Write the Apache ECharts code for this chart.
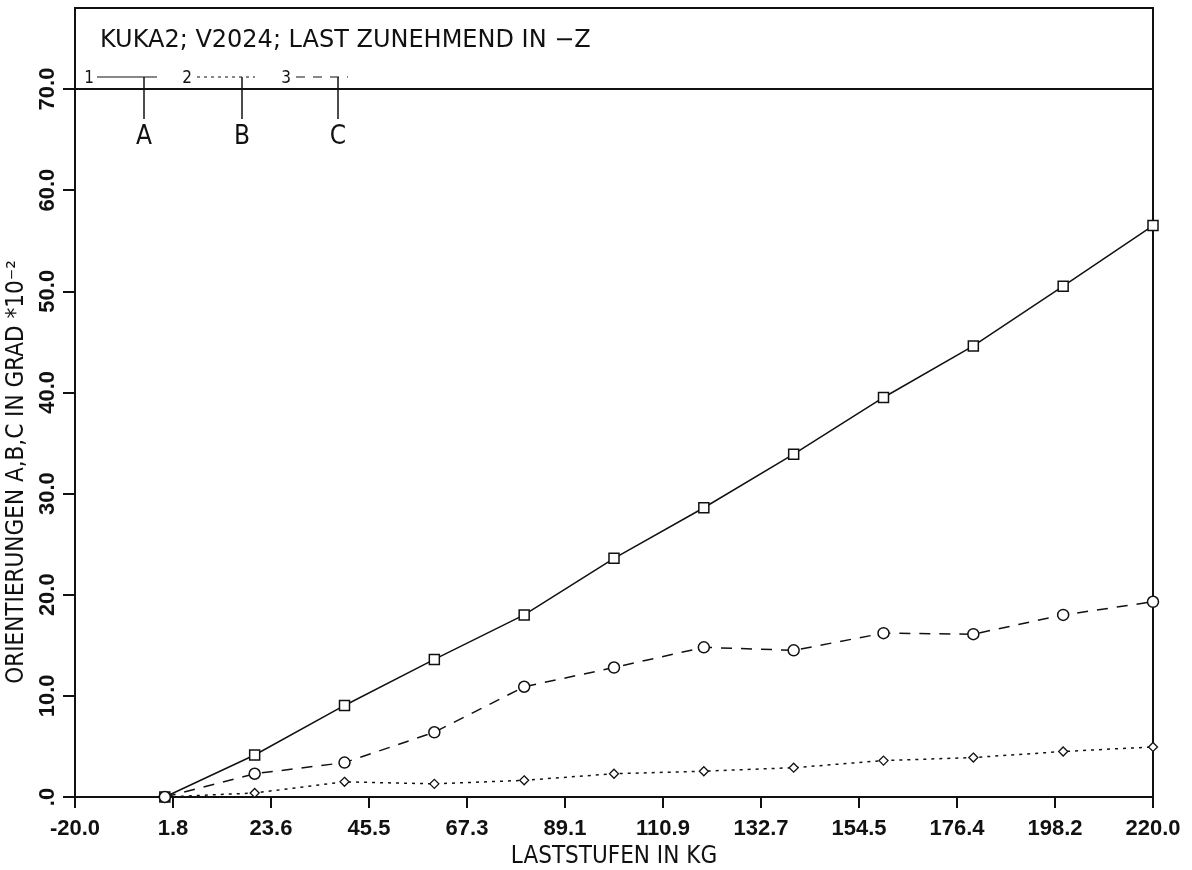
<!DOCTYPE html>
<html>
<head>
<meta charset="utf-8">
<title>KUKA2 V2024</title>
<script src="https://cdn.jsdelivr.net/npm/echarts@6/dist/echarts.min.js"></script>
<style>
    html, body { margin: 0; padding: 0; background: #fff; }
    #main { width: 1192px; height: 870px; }
</style>
</head>
<body>
<div id="main"></div>
<script>
/************************************************************************************/
// 数据: Laststufen (kg) und Orientierungen A, B, C (Grad * 10^-2)
/************************************************************************************/
var laststufen = [0, 20, 40, 60, 80, 100, 120, 140, 160, 180, 200, 220];
var orientA = [0, 4.15, 9.05, 13.6, 18.0, 23.6, 28.6, 33.9, 39.5, 44.6, 50.5, 56.5];
var orientB = [0, 0.4, 1.5, 1.3, 1.65, 2.3, 2.55, 2.9, 3.6, 3.9, 4.5, 4.95];
var orientC = [0, 2.3, 3.4, 6.4, 10.9, 12.8, 14.8, 14.5, 16.2, 16.1, 18.0, 19.3];

var xMin = -20, xMax = 220, xStep = 240 / 11;
var yMin = 0, yMax = 70, yStep = 10;

var titleText = 'KUKA2; V2024; LAST ZUNEHMEND IN \u2212Z';
var xName = 'LASTSTUFEN IN KG';
var yName = 'ORIENTIERUNGEN A,B,C IN GRAD *10\u207B\u00B2';

var INK = '#111';
var LABEL_FONT = '"Liberation Sans", Arial, sans-serif';
var NAME_FONT = '"DejaVu Sans Condensed", "DejaVu Sans", sans-serif';

var pairs = function (ys) {
    var out = [];
    for (var i = 0; i < laststufen.length; i++) {
        out.push([laststufen[i], ys[i]]);
    }
    return out;
};

var myChart = echarts.init(document.getElementById('main'));

/************************************************************************************/
// 上方框: Titel + Legende (1 --- A, 2 .... B, 3 - - C)
/************************************************************************************/
var legendGraphics = function () {
    var g = [];
    g.push({ type: 'rect', shape: { x: 75, y: 8, width: 1078, height: 81 },
             style: { fill: 'none', stroke: INK, lineWidth: 2 }, silent: true });
    // x 轴线向左伸出一点
    g.push({ type: 'line', shape: { x1: 63, y1: 797, x2: 76, y2: 797 },
             style: { stroke: INK, lineWidth: 2 } });
    g.push({ type: 'text', x: 100, y: 41, style: { text: titleText, fill: INK,
             font: '24px "DejaVu Sans", sans-serif', verticalAlign: 'middle' } });
    var items = [
        { num: '1', nx: 89, x1: 97, x2: 157, vx: 144, dash: null, letter: 'A' },
        { num: '2', nx: 187, x1: 197, x2: 255, vx: 242, dash: [3, 4], letter: 'B' },
        { num: '3', nx: 286, x1: 296, x2: 348, vx: 338, dash: [9, 8], letter: 'C' }
    ];
    for (var i = 0; i < items.length; i++) {
        var it = items[i];
        g.push({ type: 'text', x: it.nx, y: 79, style: { text: it.num, fill: INK,
                 font: '17px "DejaVu Sans Condensed", sans-serif', align: 'center', verticalAlign: 'middle' } });
        g.push({ type: 'line', shape: { x1: it.x1, y1: 77, x2: it.x2, y2: 77 },
                 style: { stroke: INK, lineWidth: 1.2, lineDash: it.dash } });
        g.push({ type: 'line', shape: { x1: it.vx, y1: 77, x2: it.vx, y2: 119 },
                 style: { stroke: INK, lineWidth: 1.5 } });
        g.push({ type: 'text', x: it.vx, y: 137, style: { text: it.letter, fill: INK,
                 font: '26px ' + NAME_FONT, align: 'center', verticalAlign: 'middle' } });
    }
    return g;
};

var option = {
    backgroundColor: '#fff',
    animation: false,
    grid: {
        left: 75, right: 39, top: 89, bottom: 73,
        outerBoundsMode: 'none',
        containLabel: false,
        show: true, borderColor: INK, borderWidth: 2
    },
    xAxis: {
        type: 'value',
        min: xMin, max: xMax, interval: xStep,
        name: xName, nameLocation: 'middle', nameGap: 48,
        nameTextStyle: { color: INK, fontFamily: NAME_FONT, fontSize: 24 },
        axisLine: { onZero: false, lineStyle: { color: INK, width: 2 } },
        axisTick: { length: 11, lineStyle: { color: INK, width: 2 } },
        axisLabel: {
            color: INK, fontFamily: LABEL_FONT, fontWeight: 'bold', fontSize: 22, margin: 21,
            formatter: function (v) { return v.toFixed(1); }
        },
        splitLine: { show: false }
    },
    yAxis: {
        type: 'value',
        min: yMin, max: yMax, interval: yStep,
        name: yName, nameLocation: 'middle', nameGap: 40,
        nameTextStyle: { color: INK, fontFamily: NAME_FONT, fontSize: 24, padding: [0, 58, 0, 0] },
        axisLine: { onZero: false, lineStyle: { color: INK, width: 2 } },
        axisTick: { length: 12, lineStyle: { color: INK, width: 2 } },
        axisLabel: {
            color: INK, fontFamily: LABEL_FONT, fontWeight: 'bold', fontSize: 22, margin: 16, rotate: 90,
            formatter: function (v) { return v === 0 ? '.0' : v.toFixed(1); }
        },
        splitLine: { show: false }
    },
    graphic: legendGraphics(),
    series: [
        {
            name: 'A', type: 'line', data: pairs(orientA),
            symbol: 'rect', symbolSize: 10, showAllSymbol: true,
            lineStyle: { color: INK, width: 1.5, type: 'solid' },
            itemStyle: { color: '#fff', borderColor: INK, borderWidth: 1.5 }
        },
        {
            name: 'B', type: 'line', data: pairs(orientB),
            symbol: 'diamond', symbolSize: 9, showAllSymbol: true,
            lineStyle: { color: INK, width: 1.5, type: [3, 5] },
            itemStyle: { color: '#fff', borderColor: INK, borderWidth: 1.3 }
        },
        {
            name: 'C', type: 'line', data: pairs(orientC),
            symbol: 'circle', symbolSize: 11, showAllSymbol: true,
            lineStyle: { color: INK, width: 1.5, type: [11, 9] },
            itemStyle: { color: '#fff', borderColor: INK, borderWidth: 1.5 }
        }
    ]
};
myChart.setOption(option);
</script>
</body>
</html>
